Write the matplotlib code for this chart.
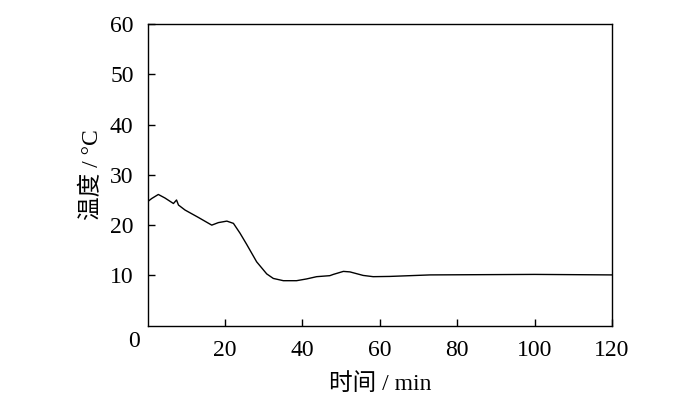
import matplotlib.pyplot as plt

plt.rcParams['font.family'] = ['Liberation Serif', 'Noto Sans CJK SC']

# time (min) and temperature (°C)
t = [0, 1.1, 2.8, 4.5, 6.7, 7.5, 8.0, 9.7, 13.1, 16.6, 18.3, 20.5, 22.2,
     23.9, 25.6, 28.2, 30.8, 32.5, 35.1, 38.5, 41.1, 43.7, 47.1, 48.0,
     50.6, 52.3, 55.7, 58.3, 62.6, 67.8, 73.0, 100.0, 120.0]
temp = [24.65, 25.3, 26.1, 25.4, 24.3, 25.0, 24.0, 23.0, 21.55, 20.0, 20.5, 20.8, 20.35,
        18.4, 16.2, 12.7, 10.3, 9.4, 8.95, 8.95, 9.3, 9.75, 9.95, 10.2,
        10.8, 10.7, 10.0, 9.75, 9.8, 9.95, 10.1, 10.2, 10.1]

xticks = [20, 40, 60, 80, 100, 120]
yticks = [10, 20, 30, 40, 50, 60]

fig = plt.figure(figsize=(7, 4.03), dpi=100)
ax = fig.add_axes([147.5 / 700, 1 - 325.7 / 403, (612 - 147.5) / 700, (325.7 - 24) / 403])

ax.plot(t, temp, color='black', lw=1.0)

ax.set_xlim(0, 120)
ax.set_ylim(0, 60)
ax.set_xticks(xticks)
ax.set_yticks(yticks)
ax.tick_params(direction='in', length=5, width=1, labelsize=17, pad=10)
for s in ax.spines.values():
    s.set_linewidth(1.0)

# shared origin label
ax.text(-3.5, -3.2, '0', fontsize=17, ha='center', va='center')
ax.set_xlabel('时间 / min', fontsize=17, labelpad=9)
ax.set_ylabel('温度 / °C', fontsize=17, labelpad=5)

fig.savefig('out.png', dpi=100)
